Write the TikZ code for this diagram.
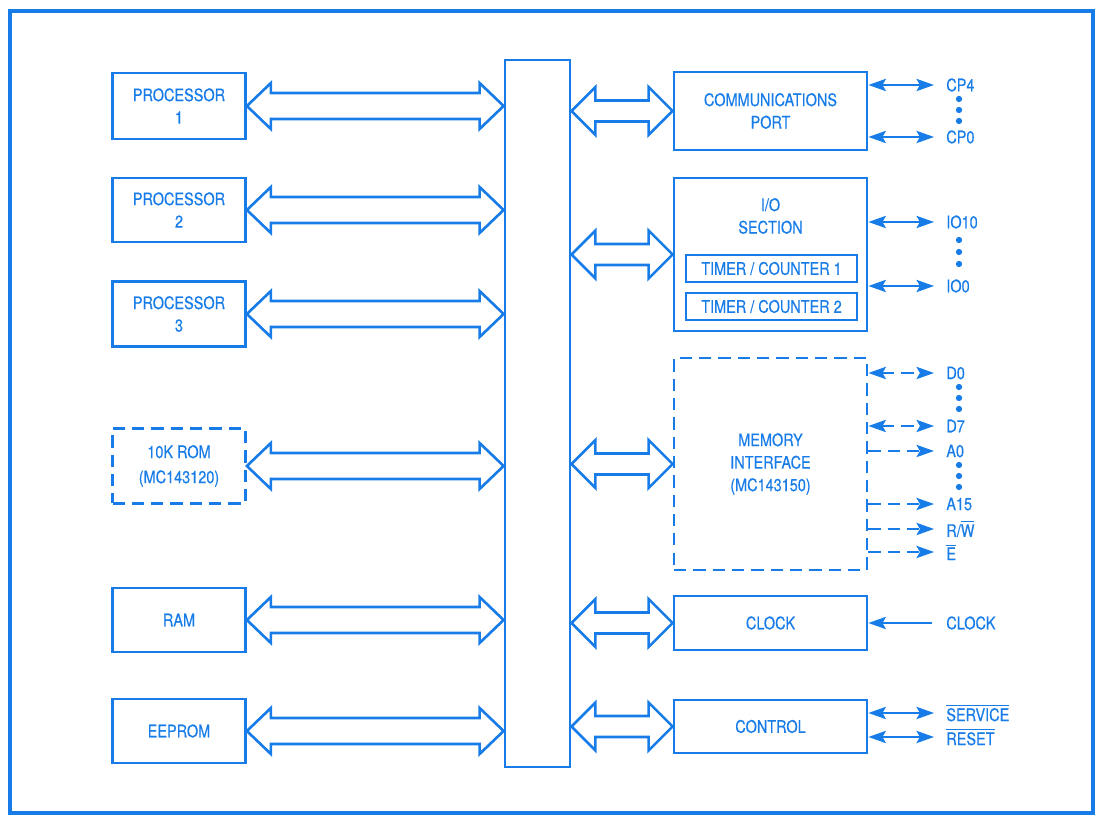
\documentclass[tikz,border=0pt]{standalone}
\usepackage{fontspec}
\setmainfont{TeX Gyre Heros}[FakeStretch=0.84,FakeBold=0.4]
\usetikzlibrary{arrows.meta,calc}
\definecolor{ink}{RGB}{24,124,232}

% Hollow double-headed bus arrow between two points on one level:
% #1 left tip, #2 right tip, #3 shaft half width, #4 head half width, #5 head length
\newcommand\busarrow[5]{%
  \draw[busline] (#1) -- ++(#5,-#4) -- ++(0,#4-#3) -- ($(#2)+(-#5,-#3)$)
    -- ++(0,#3-#4) -- (#2) -- ++(-#5,#4) -- ++(0,#3-#4)
    -- ($(#1)+(#5,#3)$) -- ++(0,#4-#3) -- cycle;}

\begin{document}
\begin{tikzpicture}[x=0.02cm,y=-0.02cm,
  font=\fontsize{9.8}{12.8}\selectfont,
  every node/.style={text=ink},
  blk/.style={draw=ink,line width=1.6pt,align=center,inner sep=0pt},
  lbox/.style={blk,minimum width=2.66cm,minimum height=#1},
  rbox/.style={blk,minimum width=3.86cm,minimum height=#1},
  tbox/.style={blk,line width=1.4pt,minimum width=3.42cm,minimum height=0.54cm},
  dashline/.style={dash pattern=on 7pt off 4pt},
  busline/.style={draw=ink,line width=1.5pt,line join=miter},
  sig/.style={draw=ink,line width=1pt},
  tip/.style={-{Stealth[length=10pt,width=7pt,inset=2pt]}},
  tips/.style={{Stealth[length=10pt,width=7pt,inset=2pt]}-{Stealth[length=10pt,width=7pt,inset=2pt]}},
  lbl/.style={anchor=west,inner sep=0pt},
  vdot/.style={fill=ink}]

\useasboundingbox (0,0) rectangle (1100,817);
\draw[ink,line width=2.8pt] (10,11) rectangle (1093,813);

% left column
\node[lbox=1.32cm] (p1) at (179,106) {PROCESSOR\\1};
\node[lbox=1.28cm] (p2) at (179,210) {PROCESSOR\\2};
\node[lbox=1.30cm] (p3) at (179,314) {PROCESSOR\\3};
\node[lbox=1.50cm,dashline] (rom) at (179,466) {10K ROM\\[1.5pt](MC143120)};
\node[lbox=1.28cm] (ram) at (179,620) {RAM};
\node[lbox=1.28cm] (eep) at (179,731) {EEPROM};

% internal bus
\node[blk,minimum width=1.30cm,minimum height=14.14cm] (bus) at (537.5,413.5) {};

% right column
\node[rbox=1.56cm] (comm) at (770.5,111) {COMMUNICATIONS\\PORT};
\node[rbox=3.06cm] (io) at (770.5,254.5) {};
\node (iot) at (770.5,216) [align=center] {I/O\\SECTION};
\node[tbox] (t1) at (771.5,268.5) {TIMER / COUNTER 1};
\node[tbox] (t2) at (771.5,306.5) {TIMER / COUNTER 2};
\node[rbox=4.24cm,dashline] (mem) at (770.5,464) {MEMORY\\INTERFACE\\(MC143150)};
\node[rbox=1.08cm] (clk) at (770.5,623) {CLOCK};
\node[rbox=1.06cm] (ctl) at (770.5,726.5) {CONTROL};

% bus arrows, left side
\foreach \n in {p1,p2,p3,rom,ram,eep}
  {\busarrow{\n.east}{\n.east -| bus.west}{13}{23}{24}}
% bus arrows, right side
\foreach \n in {comm,io,mem,clk,ctl}
  {\busarrow{bus.east |- \n.west}{\n.west}{10.5}{24}{24}}

% communications port pins
\node[lbl] (cp4) at (946,85) {CP4};
\node[lbl] (cp0) at (946,137) {CP0};
\draw[sig,tips] (comm.east |- cp4.west) -- ($(cp4.west)+(-12,0)$);
\draw[sig,tips] (comm.east |- cp0.west) -- ($(cp0.west)+(-12,0)$);
\foreach \y in {99,110,121} \fill[vdot] (959,\y) circle (1.8pt);

% I/O pins
\node[lbl] (io10) at (946,222) {IO10};
\node[lbl] (io0) at (946,286) {IO0};
\draw[sig,tips] (io.east |- io10.west) -- ($(io10.west)+(-12,0)$);
\draw[sig,tips] (io.east |- io0.west) -- ($(io0.west)+(-12,0)$);
\foreach \y in {240,252,264} \fill[vdot] (959,\y) circle (1.8pt);

% memory interface pins
\node[lbl] (d0) at (946,373) {D0};
\node[lbl] (d7) at (946,426) {D7};
\node[lbl] (a0) at (946,451) {A0};
\node[lbl] (a15) at (946,504) {A15};
\node[lbl] (rw) at (946,529) {R/$\overline{\hbox{W}}$};
\node[lbl] (en) at (946,552) {$\overline{\hbox{E}}$};
\draw[sig,dashline,tips] (mem.east |- d0.west) -- ($(d0.west)+(-12,0)$);
\draw[sig,dashline,tips] (mem.east |- d7.west) -- ($(d7.west)+(-12,0)$);
\foreach \n in {a0,a15,rw,en}
  \draw[sig,dashline,tip] (mem.east |- \n.west) -- ($(\n.west)+(-12,0)$);
\foreach \y in {387,398,409,465,476,487} \fill[vdot] (959,\y) circle (1.8pt);

% clock input
\node[lbl] (clkin) at (946,623) {CLOCK};
\draw[sig,tip] ($(clkin.west)+(-14,0)$) -- (clk.east |- clkin.west);

% control pins
\node[lbl] (svc) at (946,713) {$\overline{\hbox{SERVICE}}$};
\node[lbl] (rst) at (946,737) {$\overline{\hbox{RESET}}$};
\draw[sig,tips] (ctl.east |- svc.west) -- ($(svc.west)+(-12,0)$);
\draw[sig,tips] (ctl.east |- rst.west) -- ($(rst.west)+(-12,0)$);
\end{tikzpicture}
\end{document}
